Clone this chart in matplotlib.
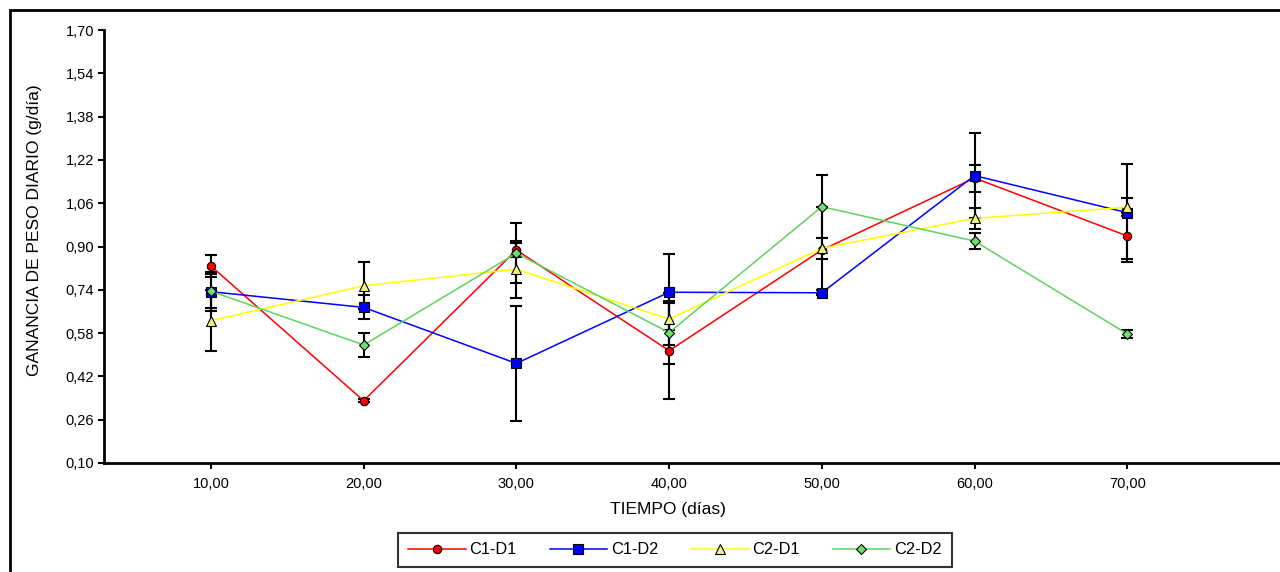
import numpy as np
import matplotlib.pyplot as plt
from matplotlib.patches import Rectangle
from matplotlib.ticker import FuncFormatter

plt.rcParams['font.family'] = ['Liberation Sans', 'DejaVu Sans']

# datos
dias = [10, 20, 30, 40, 50, 60, 70]

c1d1 = [0.828, 0.330, 0.887, 0.515, 0.887, 1.153, 0.939]
c1d1_err = [0.040, 0.005, 0.025, 0.178, 0.160, 0.050, 0.085]

c1d2 = [0.733, 0.675, 0.468, 0.731, 0.729, 1.162, 1.025]
c1d2_err = [0.071, 0.044, 0.212, 0.140, 0.010, 0.158, 0.181]

c2d1 = [0.626, 0.755, 0.816, 0.632, 0.893, 1.004, 1.045]
c2d1_err = [0.112, 0.086, 0.105, 0.096, 0.040, 0.040, 0.033]

c2d2 = [0.735, 0.536, 0.875, 0.582, 1.047, 0.920, 0.577]
c2d2_err = [0.064, 0.044, 0.110, 0.118, 0.117, 0.030, 0.015]

series = [
    ("C1-D1", c1d1, c1d1_err, "#ff0000", "o", "#ff0000", 6),
    ("C1-D2", c1d2, c1d2_err, "#0000ff", "s", "#0000ff", 6.5),
    ("C2-D1", c2d1, c2d1_err, "#ffff00", "^", "#f4f47a", 7.5),
    ("C2-D2", c2d2, c2d2_err, "#5ed35e", "D", "#6ee06e", 5.5),
]

fig = plt.figure(figsize=(12.8, 5.72), dpi=100)
ax = fig.add_axes([104/1280, 1 - 463/572, 1 - 104/1280, (463 - 30)/572])

# barras de error primero (negras)
for name, y, e, lc, mk, fc, ms in series:
    ax.errorbar(dias, y, yerr=e, fmt="none", ecolor="black", elinewidth=1.5,
                capsize=4, capthick=1.5, zorder=2)

for name, y, e, lc, mk, fc, ms in series:
    ax.plot(dias, y, color=lc, lw=1.1, marker=mk, markerfacecolor=fc,
            markeredgecolor="black", markeredgewidth=0.8,
            markersize=ms, label=name, zorder=3)

ax.set_xlim(3, 80)
ax.set_ylim(0.10, 1.70)
ax.set_yticks(np.arange(0.10, 1.71, 0.16))
ax.set_xticks(dias)
coma = FuncFormatter(lambda v, p: ("%.2f" % v).replace(".", ","))
ax.xaxis.set_major_formatter(coma)
ax.yaxis.set_major_formatter(coma)
ax.tick_params(axis="both", direction="out", length=4, width=1.5, labelsize=10.5,
               colors="black", pad=3)
ax.tick_params(axis="x", pad=6)

for s in ["top", "right"]:
    ax.spines[s].set_visible(False)
ax.spines["left"].set_linewidth(2)
ax.spines["bottom"].set_linewidth(2)

ax.set_ylabel("GANANCIA DE PESO DIARIO (g/día)", fontsize=12.5)
ax.set_xlabel("TIEMPO (días)", fontsize=12.5)
ax.yaxis.set_label_coords((42 - 104) / 1176, (463 - 230) / 433)
ax.xaxis.set_label_coords((668 - 104) / 1176, -0.09)

leg = ax.legend(loc="center", bbox_to_anchor=(675/1280, 1 - 550/572),
                bbox_transform=fig.transFigure, ncol=4, frameon=True,
                fancybox=False, edgecolor="black", fontsize=11.8,
                handlelength=3.5, handletextpad=0.25, columnspacing=2.0,
                borderpad=0.6)
leg.get_frame().set_linewidth(1.5)

# marco exterior
fig.patches.append(Rectangle((10/1280, -0.05), 1.1, 1 - 10/572 + 0.05,
                             transform=fig.transFigure, fill=False,
                             edgecolor="black", lw=2))

plt.savefig("out.png", dpi=100)
